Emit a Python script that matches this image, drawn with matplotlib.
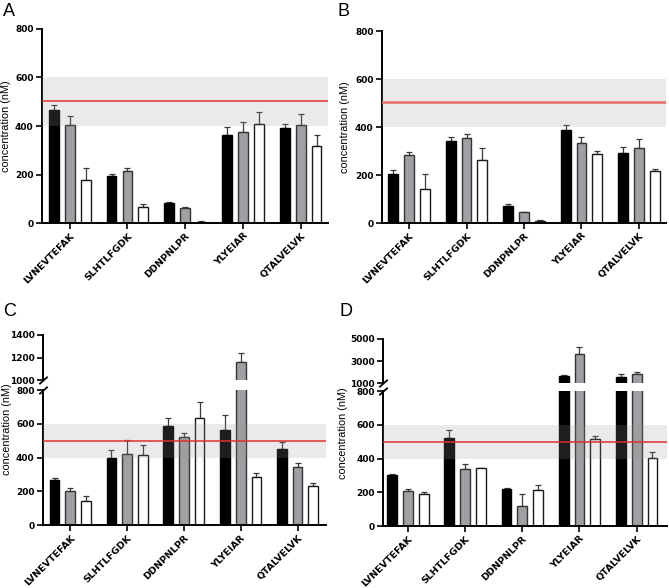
import matplotlib

matplotlib.use("Agg")
import matplotlib.pyplot as plt
import numpy as np

plt.rcParams["font.family"] = ["Liberation Sans", "DejaVu Sans"]

PEPTIDES = ["LVNEVTEFAK", "SLHTLFGDK", "DDNPNLPR", "YLYEIAR", "QTALVELVK"]

# panel A
A_black = [465, 192, 81, 364, 390]
A_black_err = [23, 12, 5, 30, 20]
A_gray = [406, 214, 62, 375, 404]
A_gray_err = [37, 11, 4, 40, 44]
A_white = [178, 66, 6, 407, 317]
A_white_err = [50, 14, 3, 50, 44]

# panel B
B_black = [204, 340, 69, 389, 291]
B_black_err = [19, 18, 10, 21, 25]
B_gray = [284, 356, 44, 335, 314]
B_gray_err = [14, 17, 3, 24, 37]
B_white = [141, 262, 8, 288, 216]
B_white_err = [63, 51, 4, 11, 8]

# panel C
C_black = [266, 398, 587, 566, 451]
C_black_err = [16, 47, 46, 84, 40]
C_gray = [203, 424, 520, 1159, 343]
C_gray_err = [18, 80, 24, 85, 27]
C_white = [142, 414, 636, 288, 232]
C_white_err = [29, 61, 95, 19, 20]

# panel D
D_black = [302, 520, 220, 1606, 1545]
D_black_err = [4, 51, 6, 91, 242]
D_gray = [206, 337, 119, 3636, 1848]
D_gray_err = [14, 32, 73, 637, 122]
D_white = [190, 341, 216, 514, 405]
D_white_err = [12, 4, 26, 18, 35]

REF_LINE = {"A": 503, "B": 506, "C": 497, "D": 500}
SHADE = (400, 600)

FILLS = ["#000000", "#a0a0a4", "#ffffff"]
EDGES = ["#000000", "#333333", "#1a1a1a"]
OFFSET = 0.276
WIDTH = 0.17
TICK_FONT = dict(family="DejaVu Sans", weight="bold", size=6.5)


def draw_bars(ax, series):
    x = np.arange(len(PEPTIDES))
    for k, (vals, errs) in enumerate(series):
        xs = x + (k - 1) * OFFSET
        ax.bar(xs, vals, WIDTH, color=FILLS[k], edgecolor=EDGES[k],
               linewidth=1.0, zorder=2)
        ax.errorbar(xs, vals, yerr=[np.zeros(len(vals)), errs], fmt="none",
                    ecolor="#3a3a3a", elinewidth=0.9, capsize=2.2,
                    capthick=0.9, zorder=1.5)


def style_axis(ax, xlim):
    ax.set_xlim(*xlim)
    for s in ["top", "right"]:
        ax.spines[s].set_visible(False)
    for s in ["left", "bottom"]:
        ax.spines[s].set_linewidth(1.4)
    ax.tick_params(axis="both", direction="out", length=4, width=1.2, pad=2)
    for lab in ax.get_yticklabels():
        lab.set(**TICK_FONT)


def lower_panel(ax, series, letter, xlim, red="#e0302c", red_lw=1.1):
    draw_bars(ax, series)
    ax.axhspan(*SHADE, color="#999999", alpha=0.2, lw=0, zorder=3)
    ax.axhline(REF_LINE[letter], color=red, lw=red_lw, zorder=4)
    ax.set_ylim(0, 800)
    ax.set_yticks([0, 200, 400, 600, 800])
    ax.set_xticks(np.arange(len(PEPTIDES)))
    ax.set_xticklabels(PEPTIDES, rotation=45, ha="right",
                       rotation_mode="anchor", family="DejaVu Sans",
                       fontweight="bold", fontsize=6.8)
    style_axis(ax, xlim)


def upper_panel(ax, series, ylim, yticks, xlim):
    draw_bars(ax, series)
    ax.set_ylim(*ylim)
    ax.set_yticks(yticks)
    style_axis(ax, xlim)
    ax.spines["bottom"].set_visible(False)
    ax.set_xticks([])


def break_marks(ax_up, ax_low):
    kw = dict(marker=[(-1, -0.9), (1, 0.9)], markersize=6, linestyle="none",
              color="k", mec="k", mew=1.3, clip_on=False)
    ax_up.plot([0], [0], transform=ax_up.transAxes, **kw)
    ax_low.plot([0], [1], transform=ax_low.transAxes, **kw)


def ylabel(ax, x, y):
    ax.set_ylabel("concentration (nM)", fontsize=7.8)
    ax.yaxis.set_label_coords(x, y)


fig = plt.figure(figsize=(6.69, 5.88), dpi=100)

# A
axA = fig.add_axes([0.0628, 0.6207, 0.428, 0.330])
lower_panel(axA, [(A_black, A_black_err), (A_gray, A_gray_err),
                  (A_white, A_white_err)], "A", (-0.48, 4.48))
ylabel(axA, -0.108, 0.5)

# B
axB = fig.add_axes([0.571, 0.6207, 0.4245, 0.3265])
lower_panel(axB, [(B_black, B_black_err), (B_gray, B_gray_err),
                  (B_white, B_white_err)], "B", (-0.47, 4.47),
            red="#e46b6b", red_lw=1.8)
ylabel(axB, -0.113, 0.5)

# C
C_series = [(C_black, C_black_err), (C_gray, C_gray_err), (C_white, C_white_err)]
axC = fig.add_axes([0.0643, 0.1066, 0.423, 0.2301])
lower_panel(axC, C_series, "C", (-0.48, 4.5))
ylabel(axC, -0.11, 0.71)
axCu = fig.add_axes([0.0643, 0.3537, 0.423, 0.0766])
upper_panel(axCu, C_series, (1000, 1400), [1000, 1200, 1400], (-0.48, 4.5))
break_marks(axCu, axC)

# D
D_series = [(D_black, D_black_err), (D_gray, D_gray_err), (D_white, D_white_err)]
axD = fig.add_axes([0.573, 0.1054, 0.424, 0.2296])
lower_panel(axD, D_series, "D", (-0.43, 4.53))
ylabel(axD, -0.125, 0.69)
axDu = fig.add_axes([0.573, 0.3486, 0.424, 0.0749])
upper_panel(axDu, D_series, (1000, 5000), [1000, 3000, 5000], (-0.43, 4.53))
break_marks(axDu, axD)

for letter, (fx, fy) in {"A": (0.005, 0.995), "B": (0.505, 0.995),
                         "C": (0.005, 0.485), "D": (0.507, 0.485)}.items():
    fig.text(fx, fy, letter, fontsize=13, va="top", ha="left")

fig.savefig("out.png", dpi=100)
